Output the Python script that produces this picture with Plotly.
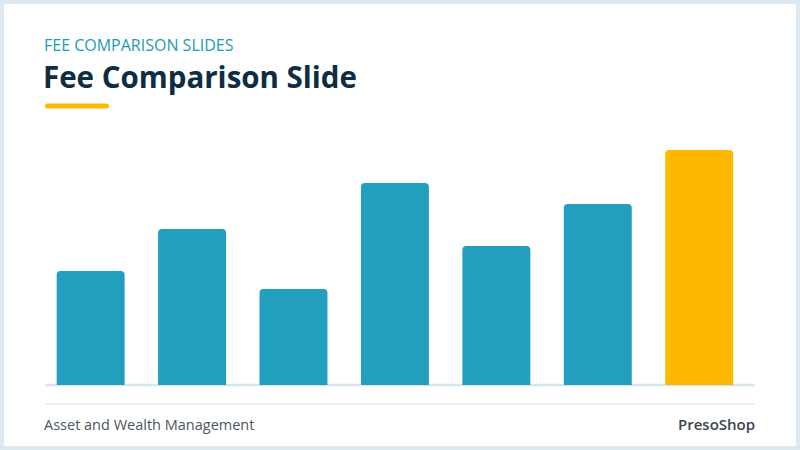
import plotly.graph_objects as go

# data
categories = ["A", "B", "C", "D", "E", "F", "G"]
fees = [1.14, 1.56, 0.96, 2.02, 1.39, 1.81, 2.35]
highlight = "G"

W, H = 800, 450
L, R, T, B = 45, 45, 145, 65
PW, PH = W - L - R, H - T - B


def px(x):
    return (x - L) / PW


def py(y):
    return (H - B - y) / PH


def pill(x0, x1, yc, h):
    # rounded bar drawn as an svg path in paper units
    r = h / 2
    pts = [
        f"M {px(x0 + r)} {py(yc - r)}",
        f"L {px(x1 - r)} {py(yc - r)}",
        f"Q {px(x1)} {py(yc - r)} {px(x1)} {py(yc)}",
        f"Q {px(x1)} {py(yc + r)} {px(x1 - r)} {py(yc + r)}",
        f"L {px(x0 + r)} {py(yc + r)}",
        f"Q {px(x0)} {py(yc + r)} {px(x0)} {py(yc)}",
        f"Q {px(x0)} {py(yc - r)} {px(x0 + r)} {py(yc - r)} Z",
    ]
    return " ".join(pts)


colors = ["#FFB800" if c == highlight else "#229FBE" for c in categories]

fig = go.Figure()
fig.add_trace(go.Bar(
    x=categories,
    y=fees,
    marker=dict(color=colors, cornerradius=4, line=dict(width=0)),
    width=0.67,
    hoverinfo="skip",
))

shapes = [
    # white slide over light frame
    dict(type="rect", xref="paper", yref="paper", layer="below",
         x0=px(4), x1=px(796), y0=py(446), y1=py(4),
         fillcolor="white", line=dict(width=0)),
    # gold underline
    dict(type="path", xref="paper", yref="paper", path=pill(45, 109, 106, 5),
         fillcolor="#FFB800", line=dict(width=0)),
    # baseline
    dict(type="line", xref="paper", yref="paper", layer="below",
         x0=px(45), x1=px(755), y0=py(385), y1=py(385),
         line=dict(color="#D9E5EA", width=2.5)),
    # footer rule
    dict(type="line", xref="paper", yref="paper",
         x0=px(45), x1=px(755), y0=py(404), y1=py(404),
         line=dict(color="#E1E8EC", width=1.5)),
]

annotations = [
    dict(text="FEE COMPARISON SLIDES", x=px(42), y=py(45), xref="paper", yref="paper",
         xanchor="left", yanchor="middle", showarrow=False,
         font=dict(family="Open Sans", size=16, color="#1E9AB6")),
    dict(text="<b>Fee Comparison Slide</b>", x=px(41), y=py(77), xref="paper", yref="paper",
         xanchor="left", yanchor="middle", showarrow=False,
         font=dict(family="Open Sans", size=29.5, color="#0E2D43", weight=800)),
    dict(text="Asset and Wealth Management", x=px(42), y=py(424), xref="paper", yref="paper",
         xanchor="left", yanchor="middle", showarrow=False,
         font=dict(family="Open Sans", size=14.5, color="#4B5661")),
    dict(text="PresoShop", x=px(757), y=py(424), xref="paper", yref="paper",
         xanchor="right", yanchor="middle", showarrow=False,
         font=dict(family="Open Sans", size=15, color="#3A4550", weight=600)),
]

fig.update_layout(
    width=W, height=H,
    margin=dict(l=L, r=R, t=T, b=B),
    paper_bgcolor="#DDE9EE",
    plot_bgcolor="rgba(0,0,0,0)",
    showlegend=False,
    shapes=shapes,
    annotations=annotations,
    xaxis=dict(range=[-0.45, 6.55], visible=False, fixedrange=True),
    yaxis=dict(range=[0, 2.4], visible=False, fixedrange=True),
)

fig.write_html("out.html", config={"displayModeBar": False},
               post_script="document.body.style.margin='0';")
